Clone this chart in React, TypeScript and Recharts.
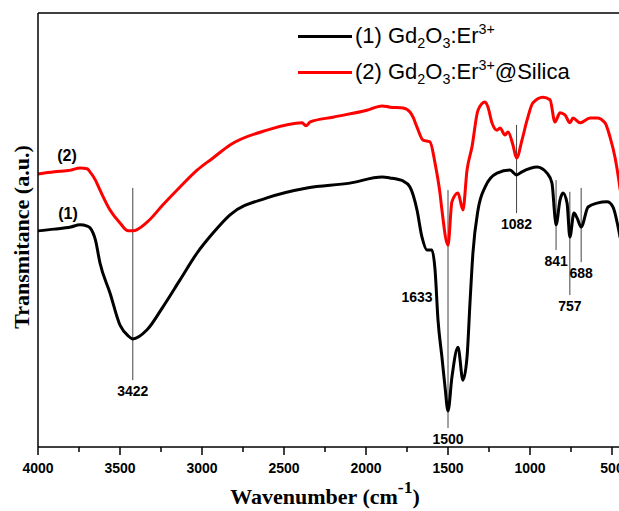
import React from 'react';
import { LineChart, Line, XAxis, YAxis, ReferenceLine, ReferenceDot } from 'recharts';

// (1) Gd2O3:Er3+  -- wavenumber (cm-1) / transmittance (a.u.)
const WAVENUMBER_1 = [
  4000, 3900, 3800, 3744, 3700, 3683, 3650, 3622, 3561, 3500,
  3450, 3422, 3335, 3238, 3134, 3030, 2933, 2829, 2604,
  2360, 2098, 1902, 1854, 1774, 1732, 1689, 1659, 1628, 1598,
  1579, 1561, 1537, 1518, 1500, 1476, 1439, 1409, 1384, 1366,
  1348, 1317, 1274, 1201, 1122, 1082, 1049, 957, 896, 866,
  848, 841, 817, 799, 774, 757, 732, 713, 688, 646,
  591, 530, 494, 463, 450,
];
const GD2O3_ER = [
  49.8, 50.2, 50.7, 51.2, 50.9, 50.5, 47.7, 42.4, 35.5, 28.1,
  25.6, 24.9, 27.0, 32.3, 38.5, 44.7, 49.3, 53.5, 57.4,
  59.7, 60.8, 62.2, 62.0, 61.3, 59.9, 54.6, 48.4, 45.4, 45.4,
  40.8, 29.3, 20.7, 13.8, 8.3, 16.1, 23.0, 15.4, 20.7, 33.2,
  44.7, 54.6, 59.9, 63.1, 63.8, 62.7, 63.4, 64.5, 63.1, 60.8,
  53.0, 51.2, 56.9, 58.5, 56.2, 48.4, 53.9, 52.8, 50.7, 55.3,
  56.2, 56.5, 55.3, 50.7, 48.2,
];

// (2) Gd2O3:Er3+@Silica
const WAVENUMBER_2 = [
  4000, 3900, 3800, 3744, 3700, 3683, 3650, 3622, 3561, 3500,
  3450, 3422, 3335, 3238, 3134, 3030, 2933, 2829, 2604, 2390,
  2366, 2340, 2201, 1995, 1902, 1854, 1774, 1732, 1713, 1689,
  1652, 1610, 1579, 1549, 1537, 1500, 1476, 1439, 1409, 1384,
  1354, 1317, 1274, 1256, 1232, 1201, 1183, 1152, 1134, 1104,
  1082, 1049, 1018, 982, 921, 878, 848, 817, 787, 756,
  738, 695, 634, 591, 543, 512, 482, 457, 450,
];
const GD2O3_ER_SILICA = [
  62.9, 63.4, 63.8, 64.3, 64.1, 63.4, 61.5, 59.2, 54.6, 51.6,
  49.8, 49.8, 51.8, 55.8, 59.9, 63.8, 66.6, 69.6, 73.0, 74.7,
  74.0, 74.9, 76.0, 77.6, 78.6, 78.3, 78.1, 77.2, 76.0, 73.7,
  70.7, 70.3, 65.4, 58.5, 54.6, 46.5, 56.5, 58.5, 54.6, 63.8,
  69.1, 77.6, 79.5, 78.3, 74.7, 73.0, 73.5, 71.9, 72.6, 69.6,
  66.6, 70.7, 75.3, 79.3, 80.6, 80.0, 74.9, 77.0, 76.5, 74.7,
  75.8, 74.7, 75.8, 75.8, 74.7, 71.4, 66.8, 61.1, 59.2,
];

const X_TICKS = [4000, 3750, 3500, 3250, 3000, 2750, 2500, 2250, 2000, 1750, 1500, 1250, 1000, 750, 500];

// peak markers: wavenumber, top / bottom of the marker line
const PEAK_LABELS = ['3422', '1500', '1082', '841', '757', '688'];
const PEAK_X = [3422, 1500, 1082, 841, 757, 688];
const PEAK_TOP = [59.7, 59.2, 74.2, 61.5, 58.8, 59.7];
const PEAK_BOTTOM = [15.4, 4.4, 53.9, 45.4, 35.0, 42.6];

const series1 = WAVENUMBER_1.map((w, i) => ({ w, t: GD2O3_ER[i] }));
const series2 = WAVENUMBER_2.map((w, i) => ({ w, t: GD2O3_ER_SILICA[i] }));

const SANS = '"Liberation Sans", Arial, sans-serif';
const SERIF = '"Liberation Serif", "Times New Roman", serif';

const XTick = (props: any) => {
  const { x, y, payload } = props;
  const major = payload.value % 500 === 0;
  return (
    <g>
      <line x1={x} x2={x} y1={y} y2={y + (major ? 8 : 5)} stroke="#000" strokeWidth={1.5} />
      {major && (
        <text x={x} y={y + 26} textAnchor="middle" fontFamily={SANS} fontWeight="bold" fontSize={14} fill="#000">
          {payload.value}
        </text>
      )}
    </g>
  );
};

const annLabel = (value: string) => ({
  value,
  position: 'bottom' as const,
  offset: 6,
  fill: '#000',
  fontSize: 14,
  fontWeight: 'bold',
  fontFamily: SANS,
});

const sub: React.CSSProperties = { fontSize: '0.65em', verticalAlign: '-0.35em', lineHeight: 0 };
const sup: React.CSSProperties = { fontSize: '0.65em', verticalAlign: '0.6em', lineHeight: 0 };

export default function App() {
  return (
    <div style={{ position: 'absolute', left: 0, top: 0, width: 619, height: 511, overflow: 'hidden', background: '#fff' }}>
      <LineChart width={650} height={511} margin={{ top: 3, right: 21.6, left: 28, bottom: 34 }}>
        <XAxis
          type="number"
          dataKey="w"
          domain={[400, 4000]}
          reversed
          ticks={X_TICKS}
          interval={0}
          tickLine={false}
          tickSize={0}
          tickMargin={0}
          height={30}
          tick={(p: any) => <XTick {...p} />}
          axisLine={{ stroke: '#000', strokeWidth: 1.5 }}
        />
        <XAxis
          xAxisId="top"
          orientation="top"
          type="number"
          domain={[400, 4000]}
          reversed
          height={10}
          tick={false}
          tickLine={false}
          axisLine={{ stroke: '#000', strokeWidth: 1.5 }}
        />
        <YAxis
          type="number"
          domain={[0, 100]}
          width={10}
          tick={false}
          tickLine={false}
          axisLine={{ stroke: '#000', strokeWidth: 1.5 }}
        />
        {PEAK_X.map((x, i) => (
          <ReferenceLine
            key={PEAK_LABELS[i]}
            segment={[{ x, y: PEAK_TOP[i] }, { x, y: PEAK_BOTTOM[i] }]}
            stroke="#444"
            strokeWidth={1}
            label={annLabel(PEAK_LABELS[i])}
          />
        ))}
        <Line data={series1} dataKey="t" type="monotone" stroke="#000" strokeWidth={3} dot={false} isAnimationActive={false} />
        <Line data={series2} dataKey="t" type="monotone" stroke="#ff0000" strokeWidth={3} dot={false} isAnimationActive={false} />
        <ReferenceDot x={1689} y={34.6} r={0} fill="none" stroke="none"
          label={{ value: '1633', position: 'center', fill: '#000', fontSize: 14, fontWeight: 'bold', fontFamily: SANS }} />
        <ReferenceDot x={3817} y={53.9} r={0} fill="none" stroke="none"
          label={{ value: '(1)', position: 'center', fill: '#000', fontSize: 16, fontWeight: 'bold', fontFamily: SANS }} />
        <ReferenceDot x={3823} y={67.1} r={0} fill="none" stroke="none"
          label={{ value: '(2)', position: 'center', fill: '#000', fontSize: 16, fontWeight: 'bold', fontFamily: SANS }} />
      </LineChart>

      {/* legend */}
      <div style={{ position: 'absolute', left: 298, top: 18, fontFamily: SANS, fontSize: 22, color: '#000' }}>
        <div style={{ display: 'flex', alignItems: 'center', height: 36, whiteSpace: 'nowrap' }}>
          <span style={{ display: 'inline-block', width: 54, height: 3, background: '#000', marginRight: 3 }} />
          <span>(1) Gd<span style={sub}>2</span>O<span style={sub}>3</span>:Er<span style={sup}>3+</span></span>
        </div>
        <div style={{ display: 'flex', alignItems: 'center', height: 36, whiteSpace: 'nowrap' }}>
          <span style={{ display: 'inline-block', width: 54, height: 3, background: '#ff0000', marginRight: 3 }} />
          <span>(2) Gd<span style={sub}>2</span>O<span style={sub}>3</span>:Er<span style={sup}>3+</span>@Silica</span>
        </div>
      </div>

      {/* axis titles */}
      <div style={{ position: 'absolute', left: 325, top: 497, transform: 'translate(-50%, -50%)', fontFamily: SERIF, fontWeight: 'bold', fontSize: 22, lineHeight: 1, whiteSpace: 'nowrap', color: '#000' }}>
        Wavenumber (cm<span style={{ fontSize: '0.8em', verticalAlign: '0.6em', lineHeight: 0 }}>-1</span>)
      </div>
      <div style={{ position: 'absolute', left: 22, top: 237, transform: 'translate(-50%, -50%) rotate(-90deg)', fontFamily: SERIF, fontWeight: 'bold', fontSize: 22, lineHeight: 1, whiteSpace: 'nowrap', color: '#000' }}>
        Transmitance (a.u.)
      </div>
    </div>
  );
}
